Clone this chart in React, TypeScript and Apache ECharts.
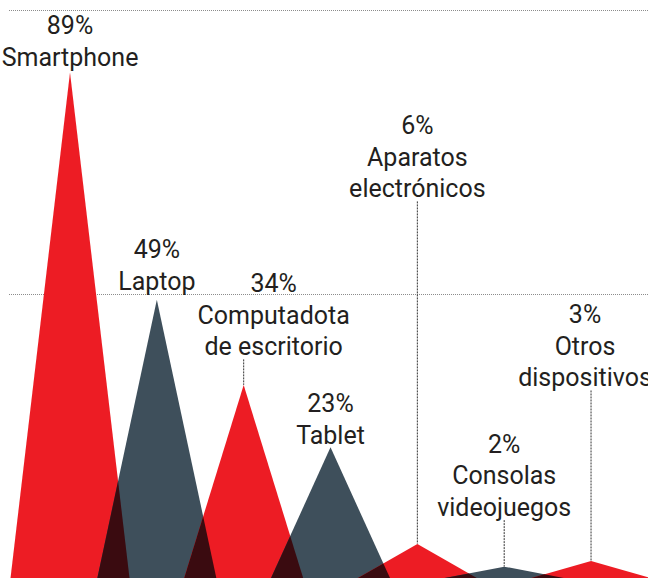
import React, { useEffect, useRef } from "react";
import * as echarts from "echarts";

const categories = [
  "Smartphone",
  "Laptop",
  "Computadota\nde escritorio",
  "Tablet",
  "Aparatos\nelectrónicos",
  "Consolas\nvideojuegos",
  "Otros\ndispositivos",
];
const values = [89, 49, 34, 23, 6, 2, 3];
const gridTicks = [0, 50, 100];

// layout: pixel distance from peak to centre of label's last line, and horizontal label shift
const labelGaps = [20, 23, 43, 17, 360, 64, 188];
const labelShifts = [0, 0, 30, 0, 0, 0, -6];

const RED = "#ed1c24";
const SLATE = "#3e4f5b";
const OVERLAP = "#3a0b10";
const TEXT = "#231f20";
const HW = 0.685;

function intersect(a: number[], b: number[], c: number[], d: number[]) {
  const den = (a[0] - b[0]) * (c[1] - d[1]) - (a[1] - b[1]) * (c[0] - d[0]);
  const t = ((a[0] - c[0]) * (c[1] - d[1]) - (a[1] - c[1]) * (c[0] - d[0])) / den;
  return [a[0] + t * (b[0] - a[0]), a[1] + t * (b[1] - a[1])];
}

export default function App() {
  const ref = useRef<HTMLDivElement>(null);
  useEffect(() => {
    const chart = echarts.init(ref.current!, undefined, { renderer: "svg" });
    const data = values.map((v, i) => [i, v, labelGaps[i], labelShifts[i]]);
    chart.setOption({
      animation: false,
      grid: { left: 9, right: 0, top: 10, bottom: -8, containLabel: false },
      xAxis: { type: "value", min: -0.7025, max: 6.656, show: false },
      yAxis: {
        type: "value",
        min: gridTicks[0],
        max: gridTicks[gridTicks.length - 1],
        interval: gridTicks[1] - gridTicks[0],
        axisLine: { show: false },
        axisTick: { show: false },
        axisLabel: { show: false },
        splitLine: { show: true, lineStyle: { color: "#8c8c8c", width: 1, type: [1, 1] } },
      },
      series: [
        {
          type: "custom",
          clip: false,
          data,
          renderItem: (params: any, api: any) => {
            const i = api.value(0);
            const v = api.value(1);
            const gap = api.value(2);
            const shift = api.value(3);
            const peak = api.coord([i, v]);
            const bl = api.coord([i - HW, 0]);
            const br = api.coord([i + HW, 0]);
            const children: any[] = [
              {
                type: "polygon",
                z2: 1,
                shape: { points: [bl, peak, br] },
                style: { fill: i % 2 === 0 ? RED : SLATE },
              },
            ];
            if (i < values.length - 1) {
              const np = api.coord([i + 1, values[i + 1]]);
              const nbl = api.coord([i + 1 - HW, 0]);
              if (nbl[0] < br[0]) {
                const p = intersect(peak, br, nbl, np);
                children.push({
                  type: "polygon",
                  z2: 5,
                  shape: { points: [nbl, p, br] },
                  style: { fill: OVERLAP },
                });
              }
            }
            const textBottom = peak[1] - gap + 15.5;
            children.push({
              type: "text",
              z2: 10,
              x: peak[0] + shift,
              y: textBottom + 5,
              style: {
                text: `${v}%\n${categories[i]}`,
                fill: TEXT,
                font: "25px Roboto",
                align: "center",
                verticalAlign: "bottom",
                lineHeight: 31.5,
              },
            });
            if (gap > 30) {
              children.push({
                type: "line",
                z2: 10,
                shape: { x1: peak[0], y1: textBottom + 2, x2: peak[0], y2: peak[1] },
                style: { stroke: "#333", lineWidth: 1, lineDash: [2, 1] },
              });
            }
            return { type: "group", children };
          },
        },
      ],
    });
    return () => chart.dispose();
  }, []);
  return (
    <div
      ref={ref}
      style={{ position: "fixed", left: 0, top: 0, width: 648, height: 578, background: "#fff" }}
    />
  );
}
